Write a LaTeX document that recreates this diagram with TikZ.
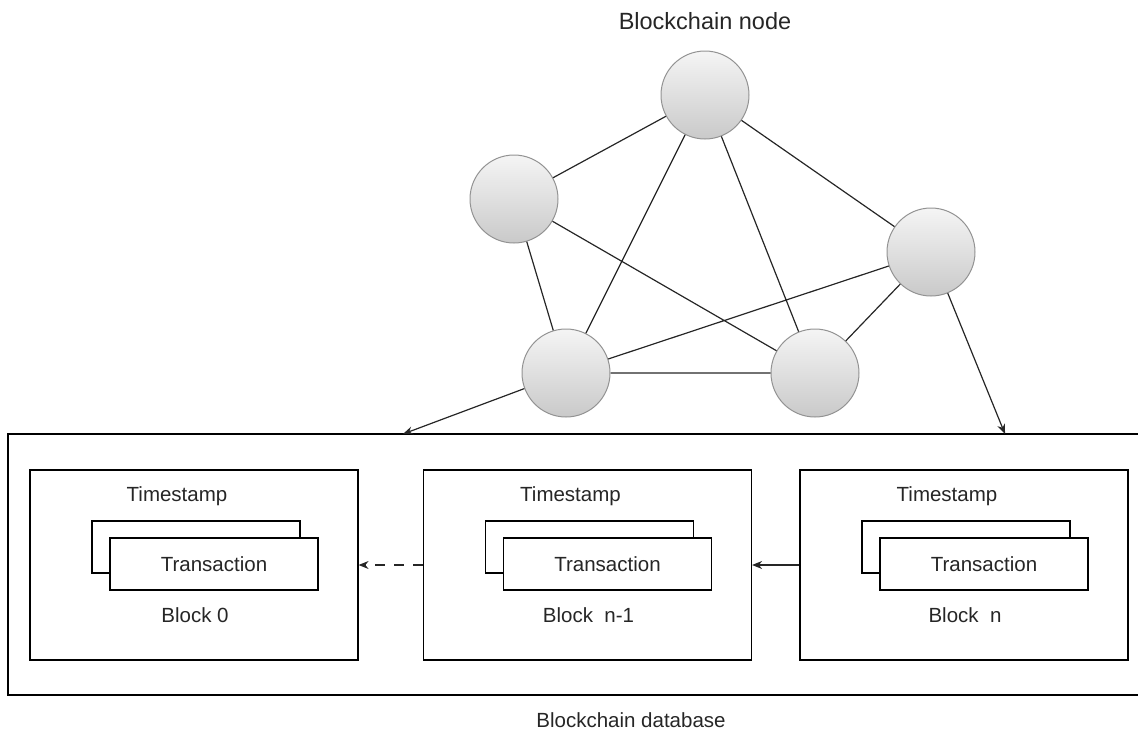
\documentclass[tikz,border=0pt]{standalone}
\usepackage{fontspec}
\setmainfont{Liberation Sans}
\usetikzlibrary{arrows.meta, positioning}
\tikzset{
    x=1pt, y=-1pt, % pixel-like units, y going down
    peer/.style={circle, minimum size=88pt, draw=gray!85, line width=1pt,
        top color=gray!8, bottom color=gray!42}, % the blockchain nodes
    blockbox/.style={draw, line width=1.2pt, minimum width=328pt, minimum height=190pt},
    txbox/.style={draw, line width=1.2pt, fill=white, minimum width=208pt, minimum height=52pt},
    lbl/.style={font=\fontsize{20.5}{24}\selectfont, text=black!85},
    link/.style={line width=1.2pt, black!85},
    >={Stealth[length=10pt, width=8pt]}, % arrow heads
}
\begin{document}
\begin{tikzpicture}
    \useasboundingbox (0,0) rectangle (1138,731);
    % network of nodes
    \node[lbl, font=\fontsize{23.5}{27}\selectfont] (title) at (705,21) {Blockchain node};
    \node[peer] (top) at (705,95) {};
    \node[peer] (left) at (514,199) {};
    \node[peer] (right) at (931,252) {};
    \node[peer] (bl) at (566,373) {};
    \node[peer] (br) at (815,373) {};
    \draw[link] (top) -- (left)
        (top) -- (right)
        (top) -- (bl)
        (top) -- (br)
        (left) -- (bl)
        (left) -- (br)
        (right) -- (bl)
        (right) -- (br)
        (bl) -- (br);
    % database frame, open on the right
    \draw[line width=1.2pt] (1138,434) -- (8,434) -- (8,695) -- (1138,695);
    \node[lbl] (dbname) at (631,720) {Blockchain database};
    \coordinate (inA) at (403,434);
    \coordinate (inB) at (1005,434);
    \draw[link, ->] (bl) -- (inA);
    \draw[link, ->] (right) -- (inB);
    % blocks
    \foreach \nm/\cx/\txt in {b0/194/Block 0, b1/587.5/Block\ \ n-1, b2/964/Block\ \ n}{
        \node[blockbox] (\nm) at (\cx,565) {};
        \node[txbox] (\nm back) at (\cx+2,547) {};
        \node[txbox] (\nm tx) at (\cx+20,564) {};
        \node[lbl] at (\nm tx) {Transaction};
        \node[lbl] (\nm time) at (\cx-17,496) {Timestamp};
        \node[lbl] (\nm name) at (\cx+1,615) {\txt};
    }
    \draw[link, ->, dash pattern=on 10pt off 9pt] (b1.west) -- (b0.east);
    \draw[link, ->] (b2.west) -- (b1.east);
\end{tikzpicture}
\end{document}
